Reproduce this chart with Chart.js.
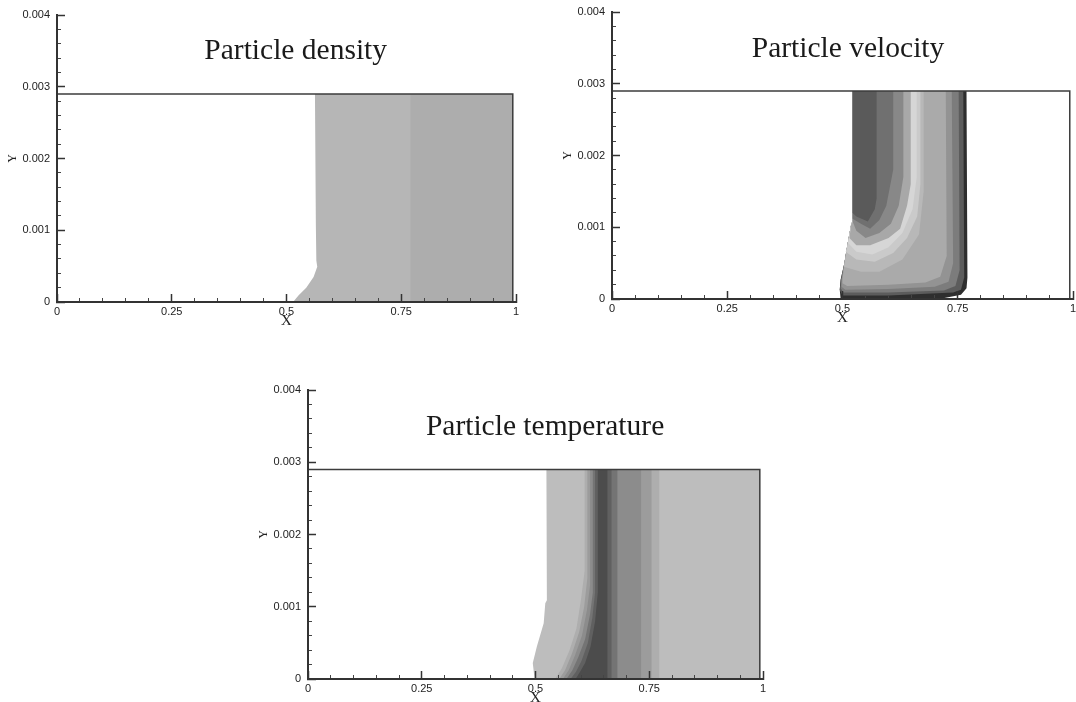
<!DOCTYPE html>
<html>
<head>
<meta charset="utf-8">
<title>Particle fields</title>
<script src="https://cdn.jsdelivr.net/npm/chart.js@4"></script>
<style>
    html, body { margin: 0; background: #fff; overflow: hidden; }
    body { width: 1076px; height: 702px; position: relative; }
    canvas { position: absolute; filter: blur(0.7px); }
</style>
</head>
<body>
<canvas id="graficoDensity" width="524" height="330" style="left:6px;top:0"></canvas>
<canvas id="graficoVelocity" width="526" height="327" style="left:561px;top:0"></canvas>
<canvas id="graficoTemperature" width="520" height="337" style="left:257px;top:370px"></canvas>

<script>
const xMajorTicks = [0, 0.25, 0.5, 0.75, 1];
const xMinorTicks = [0.05, 0.1, 0.15, 0.2, 0.3, 0.35, 0.4, 0.45, 0.55, 0.6, 0.65, 0.7, 0.8, 0.85, 0.9, 0.95];
const yMajorTicks = [0, 0.001, 0.002, 0.003, 0.004];
const yMinorTicks = [0.0002, 0.0004, 0.0006, 0.0008, 0.0012, 0.0014, 0.0016, 0.0018, 0.0022, 0.0024, 0.0026, 0.0028, 0.0032, 0.0034, 0.0036, 0.0038];

// Domain outline: top wall and outlet
const domainX = [0, 0.993, 0.993];
const domainY = [0.0029, 0.0029, 0];

// Density: regions as [x, y] outlines, painted in this order
const densityFront = [[0.562, 0.0029], [0.993, 0.0029], [0.993, 0], [0.515, 0], [0.517, 0.00002], [0.526, 0.00009], [0.543, 0.0002], [0.559, 0.00035], [0.567, 0.00049], [0.565, 0.00058], [0.564, 0.00105]];
const densityRear = [[0.77, 0.0029], [0.993, 0.0029], [0.993, 0], [0.77, 0]];
const densityRegions = [densityFront, densityRear];
const densityShades = ['#b6b6b6', '#adadad'];

// Velocity: dark rim going inwards, then the bright U band, then the dark core
const velocityRim = [[0.522, 0.0029], [0.769, 0.0029], [0.771, 0.0003], [0.769, 0.00015], [0.757, 0.00006], [0.71, 0], [0.496, 0], [0.494, 0.00013], [0.496, 0.00027], [0.504, 0.0005], [0.51, 0.00073], [0.519, 0.00105], [0.522, 0.00108]];
const velocityEdge1 = [[0.522, 0.0029], [0.762, 0.0029], [0.764, 0.0003], [0.757, 0.00013], [0.74, 0.00009], [0.6, 0.00005], [0.5, 0.00005], [0.494, 0.00013], [0.496, 0.00027], [0.504, 0.0005], [0.51, 0.00073], [0.519, 0.00105], [0.522, 0.00108]];
const velocityEdge2 = [[0.522, 0.0029], [0.752, 0.0029], [0.754, 0.0004], [0.745, 0.00018], [0.72, 0.00012], [0.6, 0.00009], [0.502, 0.00009], [0.496, 0.00015], [0.498, 0.00027], [0.504, 0.0005], [0.51, 0.00073], [0.519, 0.00105], [0.522, 0.00108]];
const velocityEdge3 = [[0.522, 0.0029], [0.737, 0.0029], [0.74, 0.0005], [0.73, 0.00024], [0.7, 0.00017], [0.6, 0.00014], [0.506, 0.00013], [0.498, 0.00017], [0.498, 0.00027], [0.504, 0.0005], [0.51, 0.00073], [0.519, 0.00105], [0.522, 0.00108]];
const velocityBody = [[0.522, 0.0029], [0.724, 0.0029], [0.726, 0.0006], [0.712, 0.00031], [0.68, 0.00023], [0.6, 0.0002], [0.51, 0.00018], [0.5, 0.00022], [0.5, 0.00027], [0.504, 0.0005], [0.51, 0.00073], [0.519, 0.00105], [0.522, 0.00108]];
const velocityBandOuter = [[0.522, 0.0029], [0.676, 0.0029], [0.676, 0.0015], [0.666, 0.0009], [0.63, 0.00055], [0.58, 0.00038], [0.54, 0.00038], [0.503, 0.00045], [0.51, 0.00073], [0.519, 0.00105], [0.522, 0.00108]];
const velocityBandMid = [[0.522, 0.0029], [0.669, 0.0029], [0.669, 0.0016], [0.662, 0.00115], [0.64, 0.00085], [0.61, 0.00064], [0.57, 0.00052], [0.53, 0.00055], [0.507, 0.00066], [0.51, 0.00073], [0.519, 0.00105], [0.522, 0.00108]];
const velocityBandCrest = [[0.522, 0.0029], [0.661, 0.0029], [0.661, 0.0017], [0.652, 0.00125], [0.63, 0.00092], [0.6, 0.00072], [0.565, 0.00062], [0.53, 0.00066], [0.512, 0.00078], [0.519, 0.00105], [0.522, 0.00108]];
const velocityCore1 = [[0.522, 0.0029], [0.648, 0.0029], [0.648, 0.0016], [0.64, 0.0013], [0.625, 0.00098], [0.6, 0.00085], [0.56, 0.00075], [0.53, 0.00075], [0.515, 0.00085], [0.519, 0.00105], [0.522, 0.00108]];
const velocityCore2 = [[0.522, 0.0029], [0.632, 0.0029], [0.632, 0.0017], [0.622, 0.0013], [0.605, 0.00105], [0.58, 0.00092], [0.55, 0.00085], [0.53, 0.00095], [0.522, 0.00108]];
const velocityCore3 = [[0.522, 0.0029], [0.61, 0.0029], [0.61, 0.0018], [0.595, 0.0013], [0.58, 0.0011], [0.56, 0.00098], [0.54, 0.00105], [0.522, 0.00112]];
const velocityCore4 = [[0.522, 0.0029], [0.574, 0.0029], [0.574, 0.0014], [0.57, 0.00125], [0.555, 0.00108], [0.53, 0.00115], [0.522, 0.0012]];
const velocityRegions = [velocityRim, velocityEdge1, velocityEdge2, velocityEdge3, velocityBody, velocityBandOuter, velocityBandMid, velocityBandCrest, velocityCore1, velocityCore2, velocityCore3, velocityCore4];
const velocityShades = ['#2e2e2e', '#5c5c5c', '#7c7c7c', '#939393', '#aaaaaa', '#b8b8b8', '#cacaca', '#d6d6d6', '#a8a8a8', '#888888', '#707070', '#5a5a5a'];

// Temperature: light field with a dark layer bending towards the front at the wall
const temperatureField = [[0.524, 0.0029], [0.993, 0.0029], [0.993, 0], [0.498, 0], [0.494, 0.00022], [0.503, 0.00045], [0.518, 0.00077], [0.5215, 0.00105], [0.525, 0.00109]];
const temperatureLayer1 = [[0.608, 0.0029], [0.772, 0.0029], [0.772, 0], [0.543, 0], [0.558, 0.00015], [0.575, 0.0004], [0.59, 0.0007], [0.6, 0.0011], [0.608, 0.0015]];
const temperatureLayer2 = [[0.614, 0.0029], [0.755, 0.0029], [0.755, 0], [0.552, 0], [0.565, 0.00012], [0.58, 0.00035], [0.596, 0.00065], [0.607, 0.001], [0.614, 0.0014]];
const temperatureLayer3 = [[0.62, 0.0029], [0.732, 0.0029], [0.732, 0], [0.56, 0], [0.573, 0.00012], [0.587, 0.00033], [0.602, 0.0006], [0.613, 0.00095], [0.62, 0.0013]];
const temperatureLayer4 = [[0.626, 0.0029], [0.68, 0.0029], [0.68, 0], [0.568, 0], [0.581, 0.00012], [0.594, 0.0003], [0.609, 0.00055], [0.62, 0.0009], [0.626, 0.0012]];
const temperatureLayer5 = [[0.631, 0.0029], [0.667, 0.0029], [0.667, 0], [0.577, 0], [0.589, 0.0001], [0.601, 0.00025], [0.615, 0.0005], [0.625, 0.00085], [0.631, 0.0012]];
const temperatureLayer6 = [[0.637, 0.0029], [0.658, 0.0029], [0.658, 0], [0.588, 0], [0.598, 0.0001], [0.609, 0.00022], [0.621, 0.00045], [0.631, 0.0008], [0.637, 0.0012]];
const temperatureRegions = [temperatureField, temperatureLayer1, temperatureLayer2, temperatureLayer3, temperatureLayer4, temperatureLayer5, temperatureLayer6];
const temperatureShades = ['#bdbdbd', '#aeaeae', '#9c9c9c', '#8c8c8c', '#747474', '#606060', '#4c4c4c'];

// Panel title, drawn at its data position
const panelTitlePlugin = {
    id: 'panelTitle',
    afterDraw(chart, args, opts) {
        const ctx = chart.ctx;
        ctx.save();
        ctx.font = '29.5px "Liberation Serif"';
        ctx.fillStyle = '#1a1a1a';
        ctx.textAlign = 'center';
        ctx.textBaseline = 'middle';
        ctx.fillText(opts.text, chart.scales.x.getPixelForValue(opts.x), chart.scales.y.getPixelForValue(opts.y));
        ctx.restore();
    }
};

function fixedTicks(values) {
    return scale => { scale.ticks = values.map(v => ({ value: v })); };
}

function buildPanel(canvasId, title, titleX, titleY, regions, shades, topGap, axisHeight) {
    const datasets = regions.map((region, i) => ({
        data: region.map(p => ({ x: p[0], y: p[1] })),
        showLine: true,
        fill: 'shape',
        backgroundColor: shades[i],
        borderWidth: 0,
        pointRadius: 0,
        order: regions.length - i + 1
    }));
    datasets.push({
        data: domainX.map((x, i) => ({ x: x, y: domainY[i] })),
        showLine: true,
        fill: false,
        borderColor: '#3c3c3c',
        borderWidth: 1.5,
        pointRadius: 0,
        order: 0
    });

    const tickFont = { family: 'Liberation Sans', size: 11 };

    return new Chart(document.getElementById(canvasId), {
        type: 'scatter',
        data: { datasets: datasets },
        plugins: [panelTitlePlugin],
        options: {
            responsive: false,
            animation: false,
            layout: { padding: { top: topGap, right: 14 } },
            plugins: {
                legend: { display: false },
                tooltip: { enabled: false },
                panelTitle: { text: title, x: titleX, y: titleY }
            },
            scales: {
                x: {
                    type: 'linear', min: 0, max: 1, weight: 1,
                    afterBuildTicks: fixedTicks(xMajorTicks),
                    afterFit: s => { s.height = axisHeight; s.paddingLeft = 0; s.paddingRight = 0; },
                    grid: { drawOnChartArea: false, tickLength: -8, tickColor: '#333', tickWidth: 1.5, z: 1 },
                    border: { color: '#333', width: 2, z: 2 },
                    ticks: { autoSkip: false, maxRotation: 0, padding: 11, color: '#222', font: tickFont, callback: v => String(v) },
                    title: { display: true, text: 'X', color: '#222', padding: 0, font: { family: 'Liberation Serif', size: 15 } }
                },
                xMinor: {
                    type: 'linear', position: 'bottom', min: 0, max: 1, weight: 0,
                    afterBuildTicks: fixedTicks(xMinorTicks),
                    afterFit: s => { s.height = 0; s.paddingLeft = 0; s.paddingRight = 0; },
                    grid: { drawOnChartArea: false, tickLength: -4, tickColor: '#444', tickWidth: 1, z: 1 },
                    border: { display: false },
                    ticks: { display: false, autoSkip: false }
                },
                y: {
                    type: 'linear', position: 'left', min: 0, max: 0.004, weight: 1,
                    afterBuildTicks: fixedTicks(yMajorTicks),
                    afterFit: s => { s.width = 51; s.paddingTop = 0; s.paddingBottom = 0; },
                    grid: { drawOnChartArea: false, tickLength: -8, tickColor: '#333', tickWidth: 1.5, z: 1 },
                    border: { color: '#333', width: 2, z: 2 },
                    ticks: { autoSkip: false, padding: 15, color: '#222', font: tickFont, callback: v => String(v) },
                    title: { display: true, text: 'Y', color: '#222', padding: 0, font: { family: 'Liberation Serif', size: 12 } }
                },
                yMinor: {
                    type: 'linear', position: 'left', min: 0, max: 0.004, weight: 0,
                    afterBuildTicks: fixedTicks(yMinorTicks),
                    afterFit: s => { s.width = 0; s.paddingTop = 0; s.paddingBottom = 0; },
                    grid: { drawOnChartArea: false, tickLength: -4, tickColor: '#444', tickWidth: 1, z: 1 },
                    border: { display: false },
                    ticks: { display: false, autoSkip: false }
                }
            }
        }
    });
}

buildPanel('graficoDensity', 'Particle density', 0.52, 0.00349, densityRegions, densityShades, 15, 28);
buildPanel('graficoVelocity', 'Particle velocity', 0.512, 0.00348, velocityRegions, velocityShades, 12, 28);
buildPanel('graficoTemperature', 'Particle temperature', 0.521, 0.00348, temperatureRegions, temperatureShades, 20, 28);
</script>
</body>
</html>
